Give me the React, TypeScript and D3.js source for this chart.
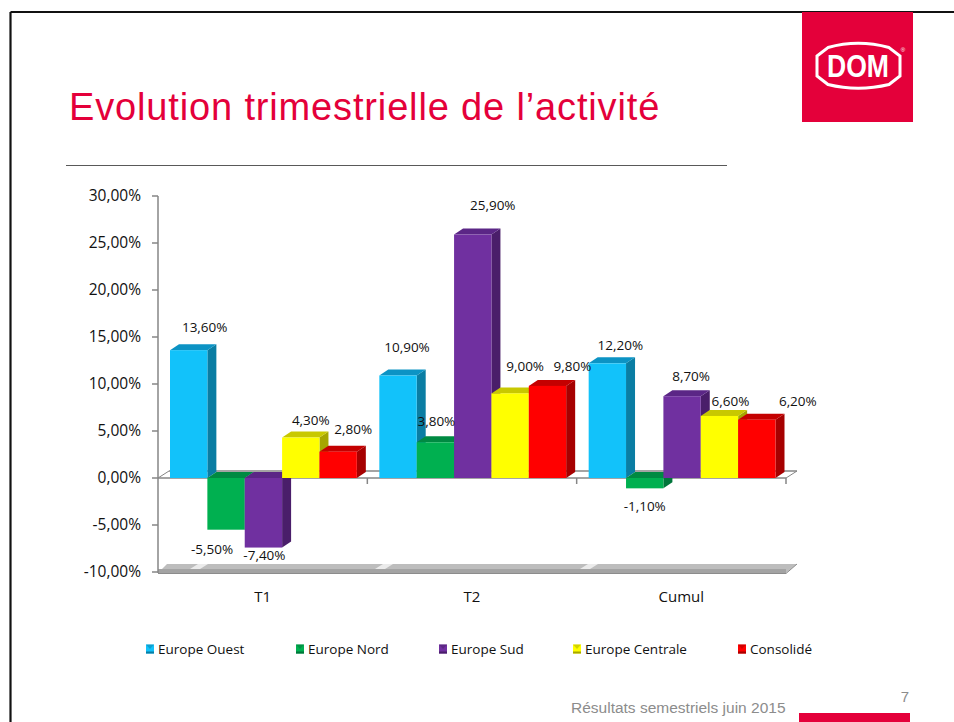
import React from "react";
import * as d3 from "d3";

const categories = ["T1", "T2", "Cumul"];
const seriesNames = ["Europe Ouest", "Europe Nord", "Europe Sud", "Europe Centrale", "Consolidé"];
const europeOuest = [13.6, 10.9, 12.2];
const europeNord = [-5.5, 3.8, -1.1];
const europeSud = [-7.4, 25.9, 8.7];
const europeCentrale = [4.3, 9.0, 6.6];
const consolide = [2.8, 9.8, 6.2];
const yTicks = [30, 25, 20, 15, 10, 5, 0, -5, -10];

// label nudges (px) relative to bar centre / bar end, as placed in the original slide
const labelDx = [[16, 9, 13], [-14, 1, 0], [1, 20, 9], [10, 15, 11], [15, 25, 41]];
const labelDy = [[-23, -28, -18], [20, -21, 18], [8, -29, -20], [-17, -27, -15], [-22, -20, -18]];

const seriesValues = [europeOuest, europeNord, europeSud, europeCentrale, consolide];
const palette = [
  { front: "#12C2FA", side: "#0A7DA3", top: "#0C93C4" },
  { front: "#00B050", side: "#00753A", top: "#008A42" },
  { front: "#7030A0", side: "#4A1E6A", top: "#5B2686" },
  { front: "#FFFF00", side: "#A6A600", top: "#C8C800" },
  { front: "#FF0000", side: "#A60000", top: "#C40000" },
];

const RED = "#E4003A";
const fmt = (v: number) => d3.format(".2f")(v).replace(".", ",").replace("\u2212", "-") + "%";

export default function App() {
  const W = 954, H = 722;
  const x0 = d3.scaleBand<string>().domain(categories).range([158, 786]).padding(0);
  const x1 = d3.scaleBand<string>().domain(seriesNames).range([12, x0.bandwidth() - 10.5]).padding(0);
  const y = d3.scaleLinear().domain([-10, 30]).range([572, 196]);
  const DX = 9, DY = 6;
  const y0 = y(0);
  const axisCol = "#868686";
  const font = "'Open Sans', 'Liberation Sans', sans-serif";

  const bars: React.ReactNode[] = [];
  const labels: React.ReactNode[] = [];
  categories.forEach((cat, ci) => {
    seriesNames.forEach((s, si) => {
      const v = seriesValues[si][ci];
      const c = palette[si];
      const xb = (x0(cat) as number) + (x1(s) as number);
      const w = x1.bandwidth();
      const yv = y(v);
      const yTop = Math.min(yv, y0);
      const yBot = Math.max(yv, y0);
      bars.push(
        <g key={`${ci}-${si}`}>
          <polygon
            points={`${xb + w},${yTop} ${xb + w + DX},${yTop - DY} ${xb + w + DX},${yBot - DY} ${xb + w},${yBot}`}
            fill={c.side}
          />
          <polygon
            points={`${xb},${yTop} ${xb + DX},${yTop - DY} ${xb + w + DX},${yTop - DY} ${xb + w},${yTop}`}
            fill={c.top}
          />
          <rect x={xb} y={yTop} width={w} height={yBot - yTop} fill={c.front} />
        </g>
      );
      const lx = xb + w / 2 + labelDx[si][ci];
      const ly = yv + labelDy[si][ci];
      labels.push(
        <text key={`l${ci}-${si}`} x={lx} y={ly} dy="0.35em" textAnchor="middle"
          fontFamily={font} fontSize={13.5} fill="#111">
          {fmt(v)}
        </text>
      );
    });
  });

  const yF = y(-10);
  const legendX = [146, 296, 439, 573, 738];

  return (
    <svg width={W} height={H} style={{ position: "absolute", left: 0, top: 0, background: "#fff" }}>
      {/* slide frame */}
      <line x1={10.5} y1={12} x2={954} y2={12} stroke="#111" strokeWidth={2} />
      <line x1={10.5} y1={12} x2={10.5} y2={722} stroke="#111" strokeWidth={2.2} />

      {/* logo */}
      <rect x={802} y={12} width={111} height={110} fill={RED} />
      <path d="M 817,56 L 828,47.5 Q 858,39 889,47.5 L 900,56 L 900,76 L 889,84.5 Q 858,92 828,84.5 L 817,76 Z"
        fill="none" stroke="#fff" strokeWidth={3} />
      <text x={858} y={77} textAnchor="middle" fontFamily="'Liberation Sans', Arial, sans-serif"
        fontWeight="bold" fontSize={32} fill="#fff" textLength={62} lengthAdjust="spacingAndGlyphs">DOM</text>
      <text x={903} y={52} textAnchor="middle" fontFamily="'Liberation Sans', sans-serif" fontSize={6} fill="#fff">®</text>

      {/* title */}
      <text x={69} y={119.5} fontFamily="'Liberation Sans', Arial, sans-serif" fontSize={38}
        letterSpacing={0.85} fill={RED}>Evolution trimestrielle de l’activité</text>
      <line x1={66} y1={165.5} x2={727} y2={165.5} stroke="#595959" strokeWidth={1} />

      {/* floor */}
      <polygon points={`${158},${yF + 1} ${786},${yF + 1} ${797},${yF - 8} ${167},${yF - 8}`} fill="#BDBDBD" />
      <rect x={158} y={yF - 3} width={628} height={4.5} fill="#A3A3A3" />
      <line x1={158} y1={yF + 1.5} x2={786} y2={yF + 1.5} stroke="#8C8C8C" strokeWidth={1} />
      <line x1={786} y1={yF + 1.5} x2={797} y2={yF - 8} stroke="#8C8C8C" strokeWidth={1} />
      {[190, 375, 580].map((xx) => (
        <polygon key={xx} points={`${xx},${yF - 3} ${xx + 10},${yF - 3} ${xx + 18},${yF - 8} ${xx + 8},${yF - 8}`}
          fill="#fff" opacity={0.7} />
      ))}

      {/* back zero line */}
      <line x1={158 + DX + 2} y1={y0 - 7} x2={786 + DX + 2} y2={y0 - 7} stroke={axisCol} strokeWidth={1.5} />
      <line x1={158} y1={y0} x2={158 + DX + 2} y2={y0 - 7} stroke={axisCol} strokeWidth={1} />
      <line x1={786} y1={y0} x2={786 + DX + 2} y2={y0 - 7} stroke={axisCol} strokeWidth={1} />

      {/* y axis */}
      <line x1={158} y1={y(30)} x2={158} y2={yF + 1} stroke={axisCol} strokeWidth={1.5} />
      {yTicks.map((t) => (
        <g key={t}>
          <line x1={152} y1={y(t)} x2={158} y2={y(t)} stroke={axisCol} strokeWidth={1.5} />
          <text x={141} y={y(t)} dy="0.35em" textAnchor="end" fontFamily={font} fontSize={15.5} fill="#111">
            {fmt(t)}
          </text>
        </g>
      ))}

      {/* zero axis with category ticks */}
      <line x1={158} y1={y0} x2={786} y2={y0} stroke={axisCol} strokeWidth={1.5} />
      {categories.map((c) => {
        const xe = (x0(c) as number) + x0.bandwidth();
        return <line key={c} x1={xe} y1={y0} x2={xe} y2={y0 + 6} stroke={axisCol} strokeWidth={1.5} />;
      })}

      {bars}
      {labels}

      {/* category labels */}
      {categories.map((c) => (
        <text key={c} x={(x0(c) as number) + x0.bandwidth() / 2} y={597} dy="0.35em" textAnchor="middle"
          fontFamily={font} fontSize={15} fill="#111">{c}</text>
      ))}

      {/* legend */}
      {seriesNames.map((s, i) => (
        <g key={s}>
          <rect x={legendX[i]} y={644.5} width={8} height={9} fill={palette[i].front} />
          <polygon points={`${legendX[i]},${644.5} ${legendX[i] + 8},${644.5} ${legendX[i] + 4},${649}`}
            fill={palette[i].side} opacity={0.5} />
          <rect x={legendX[i]} y={651.5} width={8} height={2} fill={palette[i].side} />
          <text x={legendX[i] + 12} y={649} dy="0.35em" fontFamily={font} fontSize={13.5} fill="#111">{s}</text>
        </g>
      ))}

      {/* footer */}
      <text x={571} y={713} fontFamily="'Liberation Sans', Arial, sans-serif" fontSize={15.5} fill="#8C8C8C">
        Résultats semestriels juin 2015
      </text>
      <text x={905} y={702} textAnchor="middle" fontFamily="'Liberation Sans', Arial, sans-serif" fontSize={15}
        fill="#8C8C8C">7</text>
      <rect x={799} y={713} width={111} height={9} fill={RED} />
    </svg>
  );
}
